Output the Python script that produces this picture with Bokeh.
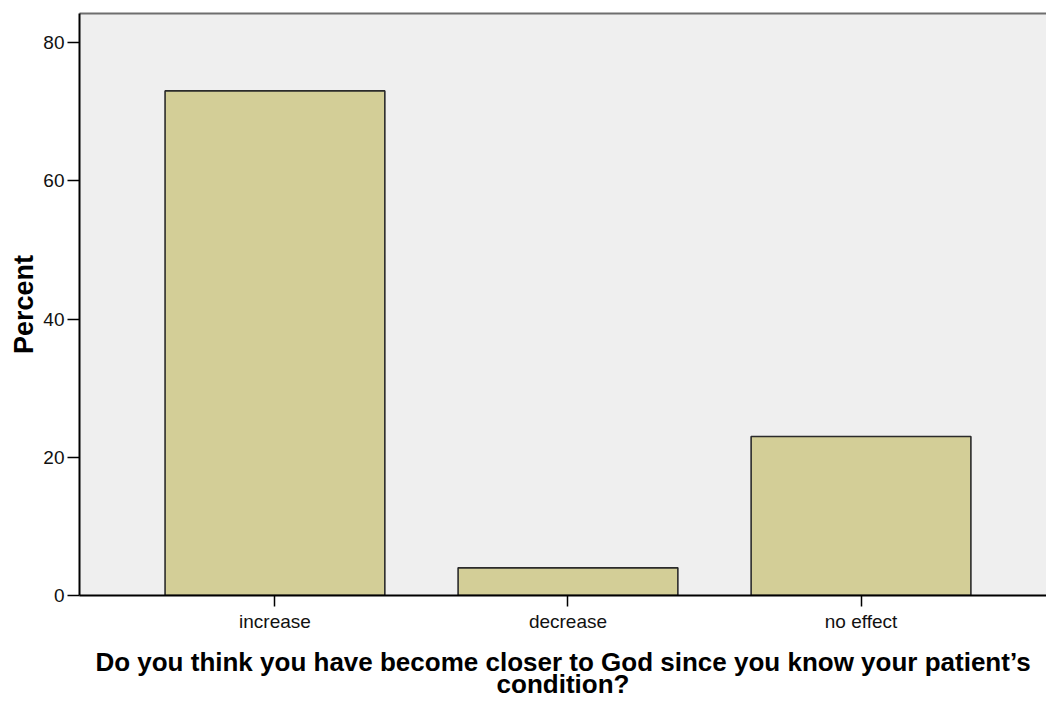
from bokeh.plotting import figure
from bokeh.models import ColumnDataSource, Range1d, FixedTicker, LinearAxis
from bokeh.embed import file_html
from bokeh.resources import INLINE

categories = ["increase", "decrease", "no effect"]
positions = [1, 2, 3]
percent = [73.0, 4.0, 23.0]
y_ticks = [0, 20, 40, 60, 80]

x_title = "Do you think you have become closer to God since you know your patient\u2019s\ncondition?"
y_title = "Percent"

src = ColumnDataSource(dict(x=positions, top=percent, cat=categories))

p = figure(width=1046, height=702, output_backend="svg", toolbar_location=None,
           x_range=Range1d(0.333, 3.633), y_range=Range1d(0, 84.2),
           min_border_left=79, min_border_right=0, min_border_top=13, min_border_bottom=100)

p.background_fill_color = "#EFEFEF"
p.border_fill_color = "white"
p.outline_line_color = None
p.grid.visible = False

p.vbar(x="x", top="top", bottom=0, width=0.75, source=src,
       fill_color="#D3CE97", line_color="#2B2B2B", line_width=1.6)

font = "Liberation Sans"

xa = p.xaxis[0]
xa.ticker = FixedTicker(ticks=positions)
xa.major_label_overrides = {pos: c for pos, c in zip(positions, categories)}
xa.minor_tick_line_color = None
xa.major_tick_out = 11
xa.major_tick_in = 0
xa.major_tick_line_color = "black"
xa.major_tick_line_width = 1.5
xa.axis_line_color = "black"
xa.axis_line_width = 2
xa.major_label_text_font = font
xa.major_label_text_font_size = "19px"
xa.major_label_text_color = "#111111"
xa.major_label_standoff = 4
xa.axis_label = x_title
xa.axis_label_text_font = font
xa.axis_label_text_font_style = "bold"
xa.axis_label_text_font_size = "26px"
xa.axis_label_text_line_height = 0.76
xa.axis_label_text_color = "black"
xa.axis_label_standoff = 12

ya = p.yaxis[0]
ya.ticker = FixedTicker(ticks=y_ticks)
ya.minor_tick_line_color = None
ya.major_tick_out = 12
ya.major_tick_in = 0
ya.major_tick_line_color = "black"
ya.major_tick_line_width = 1.5
ya.axis_line_color = "black"
ya.axis_line_width = 2
ya.major_label_text_font = font
ya.major_label_text_font_size = "19px"
ya.major_label_text_color = "#111111"
ya.major_label_standoff = 3
ya.axis_label = y_title
ya.axis_label_text_font = font
ya.axis_label_text_font_style = "bold"
ya.axis_label_text_font_size = "27px"
ya.axis_label_text_color = "black"
ya.axis_label_standoff = 1

top_axis = LinearAxis(ticker=FixedTicker(ticks=[]), major_tick_out=0, major_tick_in=0,
                      major_label_standoff=0, major_label_text_font_size="0px",
                      axis_line_color="#6E6E6E", axis_line_width=2,
                      minor_tick_line_color=None, major_tick_line_color=None)
p.add_layout(top_axis, "above")

open("out.html", "w").write(file_html(p, INLINE))
